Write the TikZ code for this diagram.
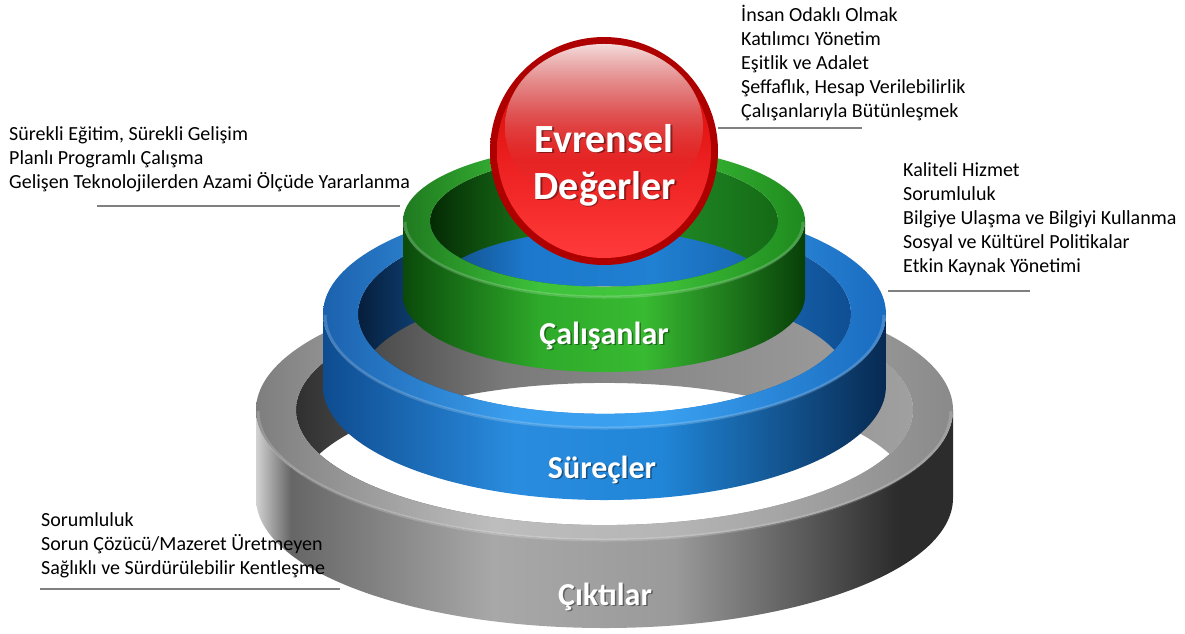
\documentclass[tikz,border=0pt]{standalone}
\usepackage{fontspec}
\setmainfont{Carlito}
\usetikzlibrary{fadings}
% green
\definecolor{gW1}{HTML}{0A4A0A}\definecolor{gW2}{HTML}{2EAA2A}\definecolor{gW3}{HTML}{38BA32}\definecolor{gW4}{HTML}{083F08}
\definecolor{gL1}{HTML}{1F7A1F}\definecolor{gL2}{HTML}{3DC23A}\definecolor{gL3}{HTML}{42C63C}\definecolor{gL4}{HTML}{1E8A1E}
\definecolor{gI1}{HTML}{042A04}\definecolor{gI2}{HTML}{1C7E1C}\definecolor{gI3}{HTML}{22902A}\definecolor{gI4}{HTML}{156A15}
% blue
\definecolor{bW1}{HTML}{0E4C90}\definecolor{bW2}{HTML}{2A8CDE}\definecolor{bW3}{HTML}{2186D8}\definecolor{bW4}{HTML}{072A52}
\definecolor{bL1}{HTML}{1C62AE}\definecolor{bL2}{HTML}{3A9EEE}\definecolor{bL3}{HTML}{3AA0F0}\definecolor{bL4}{HTML}{1A6CC0}
\definecolor{bI1}{HTML}{061E3C}\definecolor{bI2}{HTML}{1C78CC}\definecolor{bI3}{HTML}{2080D2}\definecolor{bI4}{HTML}{0F4E92}
% gray
\definecolor{kW0}{HTML}{D2D2D2}\definecolor{kW1}{HTML}{666666}\definecolor{kW2}{HTML}{A8A8A8}\definecolor{kW3}{HTML}{9A9A9A}\definecolor{kW4}{HTML}{2C2C2C}
\definecolor{kL1}{HTML}{7E7E7E}\definecolor{kL2}{HTML}{BDBDBD}\definecolor{kL3}{HTML}{B5B5B5}\definecolor{kL4}{HTML}{8A8A8A}
\definecolor{kI1}{HTML}{303030}\definecolor{kI2}{HTML}{7A7A7A}\definecolor{kI3}{HTML}{8A8A8A}\definecolor{kI4}{HTML}{A0A0A0}
% red
\definecolor{spEdgeIn}{HTML}{C60000}\definecolor{spEdgeOut}{HTML}{AE0000}
\definecolor{spTop}{HTML}{D40000}\definecolor{spMid}{HTML}{E40808}\definecolor{spBot}{HTML}{FF3A3A}
\definecolor{hlTop}{HTML}{F4DCDC}\definecolor{hlMid}{HTML}{E29A9A}\definecolor{hlBot}{HTML}{D83030}
\definecolor{ulineC}{HTML}{808080}
\newcommand\mkshade[5]{\pgfdeclarehorizontalshading{#1}{100bp}{color(0bp)=(#2); color(25bp)=(#2); color(42bp)=(#3); color(55bp)=(#4); color(75bp)=(#5); color(100bp)=(#5)}}
\mkshade{gwall}{gW1}{gW2}{gW3}{gW4}
\mkshade{glip}{gL1}{gL2}{gL3}{gL4}
\mkshade{gin}{gI1}{gI2}{gI3}{gI4}
\mkshade{bwall}{bW1}{bW2}{bW3}{bW4}
\mkshade{blip}{bL1}{bL2}{bL3}{bL4}
\mkshade{bin}{bI1}{bI2}{bI3}{bI4}
\pgfdeclarehorizontalshading{kwall}{100bp}{color(0bp)=(kW0); color(25bp)=(kW0); color(27.5bp)=(kW1); color(42bp)=(kW2); color(55bp)=(kW3); color(71bp)=(kW4); color(100bp)=(kW4)}
\mkshade{klip}{kL1}{kL2}{kL3}{kL4}
\mkshade{kin}{kI1}{kI2}{kI3}{kI4}
\pgfdeclareverticalshading{hlshade}{100bp}{color(0bp)=(hlBot); color(25bp)=(hlBot); color(40bp)=(hlBot); color(58bp)=(hlMid); color(75bp)=(hlTop); color(100bp)=(hlTop)}
\tikzfading[name=hlfade, top color=transparent!0, bottom color=transparent!100]
% cx rx ry cyTop h t wall lip inner
\newcommand\drawring[9]{%
  \pgfmathsetmacro\rxi{#2-#6}%
  \pgfmathsetmacro\ryi{#3/#2*(#2-#6)}%
  \pgfmathsetmacro\cyb{#4+#5}%
  \shade[shading=#9, even odd rule] (#1,#4) ellipse[x radius=\rxi, y radius=\ryi] (#1,\cyb) ellipse[x radius=\rxi, y radius=\ryi];
  \shade[shading=#7] ({#1-#2},#4) arc[start angle=180, end angle=0, x radius=#2, y radius=#3] -- ({#1+#2},\cyb) arc[start angle=0, end angle=180, x radius=#2, y radius=#3] -- cycle;
  \shade[shading=#8, even odd rule] (#1,#4) ellipse[x radius=#2, y radius=#3] (#1,#4) ellipse[x radius=\rxi, y radius=\ryi];
  \draw[white, opacity=0.18, line width=3pt] ({#1-#2+2},{#4+1}) arc[start angle=180, end angle=0, x radius={#2-2}, y radius={#3-1}];
}
\begin{document}
\begin{tikzpicture}[x=1pt,y=-1pt,
  lbl/.style={font=\fontsize{20}{24}\selectfont, anchor=base west, inner sep=0pt, text=black},
  rlbl/.style={font=\fontsize{32}{38}\selectfont\bfseries, anchor=base, inner sep=0pt, text=white},
  slbl/.style={font=\fontsize{40}{48}\selectfont\bfseries, anchor=base, inner sep=0pt, text=white},
  shd/.style={text=black, text opacity=0.4},
  uline/.style={draw=ulineC, line width=1.6pt}]
\useasboundingbox (0,0) rectangle (1185,633);
\fill[white] (0,0) rectangle (1185,633);

% underlines
\coordinate (trA) at (718,128); \coordinate (trB) at (862,128);
\coordinate (tlA) at (97,206);  \coordinate (tlB) at (400,206);
\coordinate (rA) at (888,291);  \coordinate (rB) at (1030,291);
\coordinate (blA) at (40,589);  \coordinate (blB) at (340,589);
\draw[uline] (trA) -- (trB);
\draw[uline] (tlA) -- (tlB);
\draw[uline] (rA) -- (rB);

% rings
\drawring{604.5}{348.5}{130}{410}{88}{40}{kwall}{klip}{kin}
\draw[uline] (blA) -- (blB);
\drawring{604.5}{281.5}{114}{314}{72}{35}{bwall}{blip}{bin}
\drawring{604}{201}{76}{221}{75}{27}{gwall}{glip}{gin}

% sphere
\shade[inner color=spEdgeIn, outer color=spEdgeOut] (604,151) circle (114);
\shade[top color=spTop, middle color=spMid, bottom color=spBot] (604,151) circle (107);
\shade[shading=hlshade, path fading=hlfade] (604,127) ellipse[x radius=99, y radius=83];

% ring / sphere labels
\node[slbl, shd] (evS) at (605.5,153.5) {Evrensel};
\node[slbl] (ev) at (604,152) {Evrensel};
\node[slbl, shd] (deS) at (606.5,200.5) {Değerler};
\node[slbl] (de) at (605,199) {Değerler};
\node[rlbl, shd] (caS) at (605.5,345.5) {Çalışanlar};
\node[rlbl] (ca) at (604,344) {Çalışanlar};
\node[rlbl, shd] (suS) at (603.5,479.5) {Süreçler};
\node[rlbl] (su) at (602,478) {Süreçler};
\node[rlbl, shd] (ciS) at (606.5,606.5) {Çıktılar};
\node[rlbl] (ci) at (605,605) {Çıktılar};

% text blocks
\node[lbl] (tr1) at (741,21)  {İnsan Odaklı Olmak};
\node[lbl] (tr2) at (741,45)  {Katılımcı Yönetim};
\node[lbl] (tr3) at (741,69)  {Eşitlik ve Adalet};
\node[lbl] (tr4) at (741,93)  {Şeffaflık, Hesap Verilebilirlik};
\node[lbl] (tr5) at (741,117) {Çalışanlarıyla Bütünleşmek};

\node[lbl] (tl1) at (9,140) {Sürekli Eğitim, Sürekli Gelişim};
\node[lbl] (tl2) at (9,164) {Planlı Programlı Çalışma};
\node[lbl] (tl3) at (9,188) {Gelişen Teknolojilerden Azami Ölçüde Yararlanma};

\node[lbl] (r1) at (903,176) {Kaliteli Hizmet};
\node[lbl] (r2) at (903,200) {Sorumluluk};
\node[lbl] (r3) at (903,224) {Bilgiye Ulaşma ve Bilgiyi Kullanma};
\node[lbl] (r4) at (903,248) {Sosyal ve Kültürel Politikalar};
\node[lbl] (r5) at (903,272) {Etkin Kaynak Yönetimi};

\node[lbl] (bl1) at (41,526) {Sorumluluk};
\node[lbl] (bl2) at (41,550) {Sorun Çözücü/Mazeret Üretmeyen};
\node[lbl] (bl3) at (41,574) {Sağlıklı ve Sürdürülebilir Kentleşme};
\end{tikzpicture}
\end{document}
